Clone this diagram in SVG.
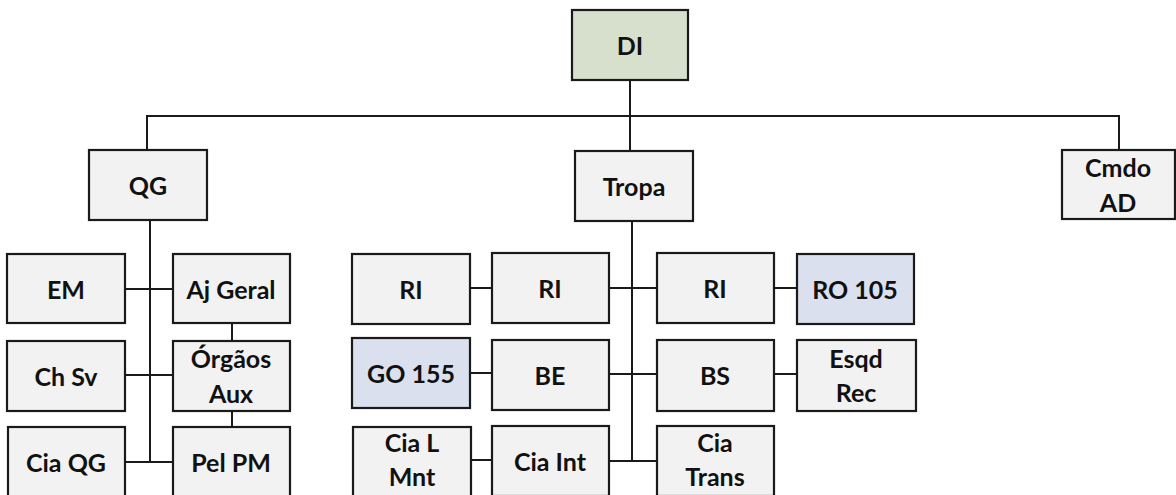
<svg xmlns="http://www.w3.org/2000/svg" width="1176" height="495" viewBox="0 0 1176 495">
<style>
.b{fill:#f2f2f2;stroke:#1a1a1a;stroke-width:2.2}
.g{fill:#d6e0cd}
.u{fill:#dae0ed}
text{font-family:Lato,"Liberation Sans",sans-serif;font-weight:bold;font-size:25px;fill:#111;text-anchor:middle}
.c{fill:none;stroke:#1a1a1a;stroke-width:2}
</style>
<rect width="1176" height="495" fill="#fff"/>
<g id="connectors" class="c">
<path d="M630 80V151M147 150V116H1119V150"/>
<path d="M150 220V462M125 289H173M125 375H173M125 462H173M232 323V341M232 411V427"/>
<path d="M632 221V461M609 288H657M609 374H657M609 461H657"/>
<path d="M470 288H492M470 373H492M471 460H492M774 288H797M774 374H797"/>
</g>
<g id="DI"><rect class="b g" x="572" y="10" width="116" height="70"/><text x="630" y="55">DI</text></g>
<g id="QG"><rect class="b" x="89" y="150" width="118" height="70"/><text x="148" y="195">QG</text></g>
<g id="Tropa"><rect class="b" x="575" y="151" width="118" height="70"/><text x="634" y="196">Tropa</text></g>
<g id="CmdoAD"><rect class="b" x="1062" y="150" width="113" height="69"/><text x="1118" y="177">Cmdo</text><text x="1118" y="212">AD</text></g>
<g id="EM"><rect class="b" x="7" y="254" width="118" height="69"/><text x="66" y="299">EM</text></g>
<g id="AjGeral"><rect class="b" x="173" y="254" width="117" height="69"/><text x="231" y="299">Aj Geral</text></g>
<g id="ChSv"><rect class="b" x="7" y="341" width="118" height="70"/><text x="66" y="386">Ch Sv</text></g>
<g id="OrgaosAux"><rect class="b" x="173" y="341" width="117" height="70"/><text x="231" y="368">Órgãos</text><text x="231" y="403">Aux</text></g>
<g id="CiaQG"><rect class="b" x="8" y="427" width="117" height="70"/><text x="66" y="472">Cia QG</text></g>
<g id="PelPM"><rect class="b" x="173" y="427" width="117" height="70"/><text x="231" y="472">Pel PM</text></g>
<g id="RI1"><rect class="b" x="352" y="254" width="118" height="70"/><text x="411" y="299">RI</text></g>
<g id="RI2"><rect class="b" x="492" y="253" width="117" height="70"/><text x="550" y="298">RI</text></g>
<g id="GO155"><rect class="b u" x="352" y="338" width="118" height="70"/><text x="411" y="383">GO 155</text></g>
<g id="BE"><rect class="b" x="492" y="340" width="117" height="70"/><text x="550" y="385">BE</text></g>
<g id="CiaLMnt"><rect class="b" x="353" y="427" width="118" height="70"/><text x="412" y="452">Cia L</text><text x="412" y="486">Mnt</text></g>
<g id="CiaInt"><rect class="b" x="492" y="426" width="117" height="70"/><text x="550" y="471">Cia Int</text></g>
<g id="RI3"><rect class="b" x="657" y="253" width="117" height="70"/><text x="715" y="298">RI</text></g>
<g id="RO105"><rect class="b u" x="797" y="254" width="117" height="70"/><text x="855" y="299">RO 105</text></g>
<g id="BS"><rect class="b" x="657" y="340" width="117" height="71"/><text x="715" y="385">BS</text></g>
<g id="EsqdRec"><rect class="b" x="797" y="340" width="119" height="71"/><text x="856" y="368">Esqd</text><text x="856" y="402">Rec</text></g>
<g id="CiaTrans"><rect class="b" x="657" y="426" width="117" height="70"/><text x="715" y="452">Cia</text><text x="715" y="486">Trans</text></g>
</svg>
